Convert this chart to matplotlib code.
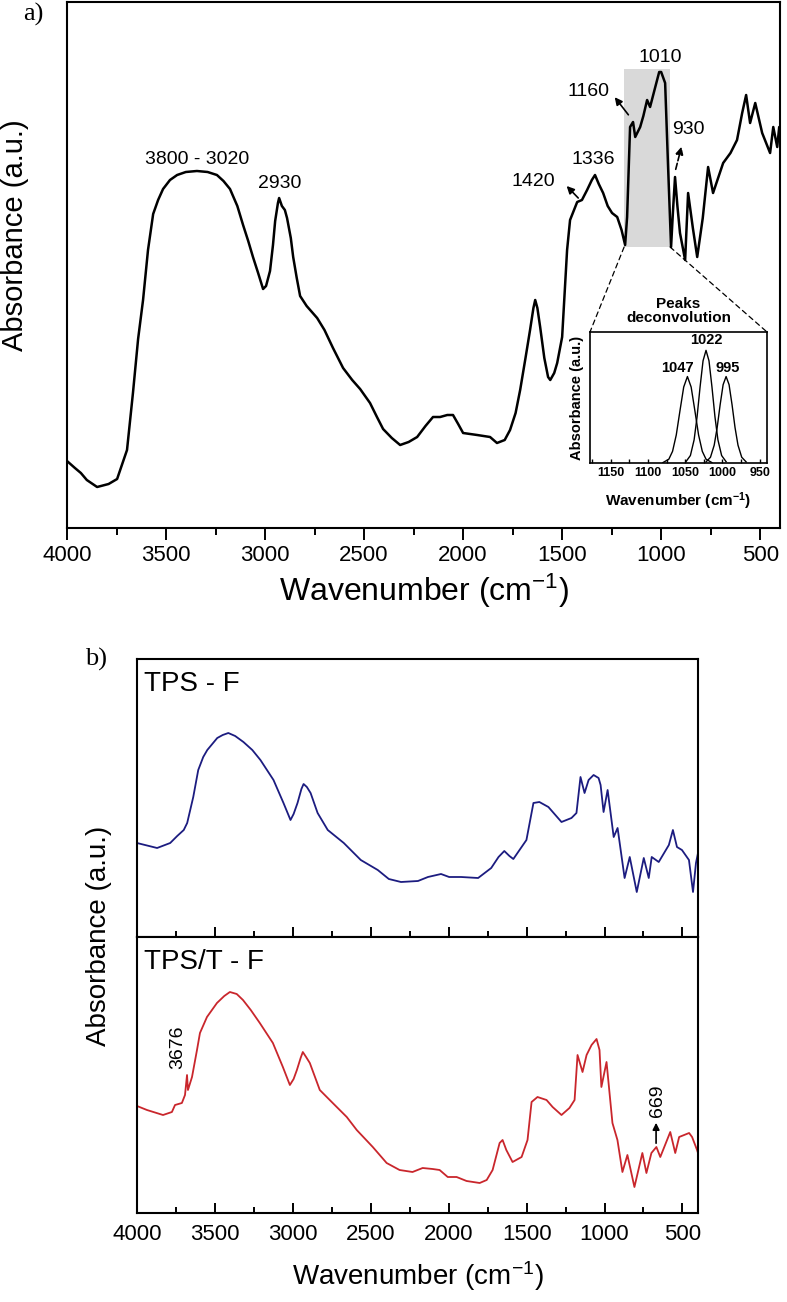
import matplotlib.pyplot as plt
from matplotlib.patches import Rectangle, ConnectionPatch
from matplotlib.ticker import MultipleLocator

plt.rcParams['font.family'] = ['Liberation Sans', 'DejaVu Sans']
plt.rcParams['mathtext.default'] = 'regular'

# ---- panel a: FTIR spectrum (wavenumber cm-1, absorbance a.u.)
wn_a = [4000, 3960, 3930, 3900, 3848, 3790, 3747, 3697, 3667, 3641,
        3616, 3591, 3565, 3540, 3515, 3480, 3444, 3400, 3344, 3290,
        3243, 3210, 3177, 3140, 3111, 3085, 3061, 3035, 3010, 2995,
        2975, 2960, 2949, 2935, 2929, 2915, 2900, 2889, 2870, 2858,
        2840, 2823, 2790, 2737, 2700, 2657, 2606, 2560, 2520, 2470,
        2435, 2404, 2360, 2318, 2275, 2232, 2190, 2152, 2116, 2080,
        2051, 2025, 2000, 1929, 1864, 1829, 1790, 1763, 1735, 1712,
        1685, 1662, 1645, 1636, 1625, 1611, 1590, 1571, 1560, 1540,
        1525, 1500, 1475, 1460, 1440, 1424, 1400, 1374, 1350, 1334,
        1315, 1293, 1270, 1248, 1222, 1200, 1182, 1172, 1157, 1142,
        1131, 1106, 1090, 1071, 1056, 1030, 1010, 1000, 980, 965,
        950, 940, 930, 918, 905, 879, 864, 840, 818, 790,
        763, 738, 687, 650, 617, 591, 571, 551, 525, 490,
        450, 434, 414, 404, 400]
abs_a = [67, 60, 55, 48, 41, 44, 49, 78, 135, 189,
         228, 278, 314, 328, 339, 348, 353, 356, 357, 356,
         353, 347, 339, 322, 303, 287, 271, 255, 239, 242,
         257, 283, 307, 325, 330, 322, 318, 310, 290, 271,
         250, 232, 222, 210, 198, 180, 160, 148, 139, 125,
         111, 99, 90, 83, 86, 91, 102, 111, 111, 113,
         113, 104, 95, 93, 91, 85, 88, 98, 115, 138,
         170, 198, 220, 228, 220, 201, 170, 151, 148, 155,
         165, 191, 278, 308, 318, 326, 328, 338, 348, 353,
         344, 335, 322, 315, 311, 298, 283, 311, 401, 406,
         391, 401, 412, 428, 421, 441, 456, 456, 445, 361,
         281, 318, 351, 322, 295, 268, 335, 300, 271, 310,
         361, 335, 365, 375, 388, 415, 433, 405, 425, 395,
         375, 401, 381, 401, 395]

shade_wn = (955, 1187)
shade_abs = (281, 459)

# ---- inset: deconvoluted peaks
p1047_wn = [1080, 1072, 1067, 1062, 1057, 1052, 1047, 1042, 1037, 1032, 1027, 1022, 1014]
p1047_y = [0.003, 0.029, 0.089, 0.214, 0.40, 0.58, 0.66, 0.58, 0.40, 0.214, 0.089, 0.029, 0.003]
p1022_wn = [1049, 1043, 1038, 1034, 1030, 1026, 1022, 1018, 1014, 1010, 1006, 1001, 995]
p1022_y = [0.01, 0.057, 0.177, 0.354, 0.58, 0.78, 0.86, 0.78, 0.58, 0.354, 0.177, 0.057, 0.01]
p995_wn = [1022, 1016, 1011, 1007, 1003, 999, 995, 991, 987, 983, 979, 974, 968]
p995_y = [0.008, 0.044, 0.136, 0.271, 0.445, 0.598, 0.66, 0.598, 0.445, 0.271, 0.136, 0.044, 0.008]

# ---- panel b: TPS - F and TPS/T - F
wn_tps = [4000, 3871, 3787, 3742, 3700, 3678, 3639, 3607, 3575, 3549,
          3485, 3450, 3414, 3370, 3317, 3260, 3208, 3124, 3060, 3015,
          2995, 2970, 2945, 2931, 2910, 2886, 2841, 2776, 2673, 2564,
          2455, 2384, 2306, 2197, 2133, 2049, 1997, 1920, 1811, 1727,
          1680, 1643, 1610, 1585, 1501, 1456, 1418, 1360, 1276, 1212,
          1180, 1154, 1128, 1102, 1070, 1038, 1025, 1006, 980, 941,
          916, 871, 838, 793, 748, 716, 697, 652, 587, 561,
          535, 503, 458, 432, 413, 400]
abs_tps = [94, 89, 94, 101, 107, 114, 140, 167, 180, 187,
           199, 202, 204, 201, 195, 187, 177, 157, 134, 117,
           123, 134, 148, 153, 150, 144, 124, 107, 94, 77,
           67, 58, 55, 56, 60, 63, 60, 60, 59, 69,
           80, 86, 81, 78, 97, 134, 135, 130, 115, 119,
           124, 160, 144, 157, 162, 159, 152, 125, 147, 100,
           109, 59, 80, 45, 79, 59, 80, 75, 92, 107,
           90, 87, 77, 45, 74, 84]

wn_tpst = [4000, 3936, 3833, 3776, 3756, 3712, 3692, 3679, 3673, 3647,
           3615, 3596, 3551, 3487, 3440, 3404, 3360, 3320, 3270, 3212,
           3128, 3064, 3019, 2995, 2974, 2950, 2936, 2915, 2891, 2827,
           2744, 2654, 2590, 2487, 2398, 2315, 2232, 2167, 2103, 2058,
           2006, 1949, 1885, 1801, 1756, 1718, 1673, 1654, 1630, 1590,
           1532, 1494, 1468, 1430, 1372, 1333, 1276, 1225, 1192, 1173,
           1141, 1115, 1083, 1051, 1032, 1020, 987, 949, 917, 885,
           853, 808, 757, 731, 699, 667, 642, 578, 546, 521,
           457, 438, 406, 400]
abs_tpst = [107, 103, 98, 101, 108, 110, 118, 138, 123, 136,
            163, 180, 196, 210, 217, 221, 219, 213, 203, 190,
            170, 146, 128, 134, 143, 155, 161, 156, 150, 123,
            110, 96, 83, 66, 50, 43, 41, 45, 44, 43,
            36, 36, 32, 30, 33, 43, 70, 73, 63, 51,
            56, 73, 111, 116, 113, 106, 98, 105, 113, 158,
            141, 158, 168, 174, 163, 126, 151, 90, 73, 41,
            58, 26, 60, 40, 60, 66, 56, 81, 60, 76,
            80, 76, 63, 60]

W, H = 787, 1302
fig = plt.figure(figsize=(W / 100, H / 100), dpi=100)


def box(l, t, r, b):
    return [l / W, 1 - b / H, (r - l) / W, (b - t) / H]


# ================= panel a
ax = fig.add_axes(box(67, 2, 780, 528))
ax.add_patch(Rectangle((shade_wn[0], shade_abs[0]), shade_wn[1] - shade_wn[0],
                       shade_abs[1] - shade_abs[0], color='#d9d9d9', lw=0, zorder=1))
ax.plot(wn_a, abs_a, color='black', lw=1.8, zorder=3)
ax.set_xlim(4000, 400)
ax.set_ylim(0, 526)
ax.set_yticks([])
ax.xaxis.set_major_locator(MultipleLocator(500))
ax.xaxis.set_minor_locator(MultipleLocator(250))
ax.tick_params(axis='x', which='major', direction='out', length=8.5, width=1.4,
               labelsize=16, pad=4)
ax.tick_params(axis='x', which='minor', direction='out', length=5, width=1.4)
for s in ax.spines.values():
    s.set_linewidth(1.5)
ax.set_xlabel('Wavenumber (cm$^{-1}$)', fontsize=23, labelpad=4)

ann = dict(fontsize=14, ha='center', va='center')
ax.text(3343, 369, '3800 - 3020', **ann)
ax.text(2924, 344, '2930', **ann)
ax.text(1647, 346, '1420', **ann)
ax.text(1344, 368, '1336', **ann)
ax.text(1369, 436, '1160', **ann)
ax.text(1005, 470, '1010', **ann)
ax.text(864, 398, '930', **ann)
arr = dict(arrowstyle='-|>', color='black', lw=1.2, mutation_scale=11)
ax.annotate('', xy=(1487, 344), xytext=(1409, 328), arrowprops=arr)
ax.annotate('', xy=(1243, 433), xytext=(1157, 411), arrowprops=arr)
ax.annotate('', xy=(894, 384), xytext=(930, 356),
            arrowprops=dict(arr, linestyle='--'))

# inset
axi = fig.add_axes(box(590, 332, 767, 463))
axi.plot(p1047_wn, p1047_y, color='black', lw=1.0)
axi.plot(p1022_wn, p1022_y, color='black', lw=1.0)
axi.plot(p995_wn, p995_y, color='black', lw=1.0)
axi.set_xlim(1178, 940)
axi.set_ylim(0, 1)
axi.set_yticks([])
axi.set_xticks([1150, 1100, 1050, 1000, 950])
axi.xaxis.set_minor_locator(MultipleLocator(25))
axi.tick_params(axis='x', which='both', direction='in', length=3, width=1,
                labelsize=9, pad=3)
for lab in axi.get_xticklabels():
    lab.set_fontweight('bold')
for s in axi.spines.values():
    s.set_linewidth(1.2)
axi.set_xlabel('Wavenumber (cm$^{-1}$)', fontsize=11, fontweight='bold', labelpad=8)
axi.set_ylabel('Absorbance (a.u.)', fontsize=10.5, fontweight='bold', labelpad=4)
axi.text(0.5, 1.05, 'Peaks\ndeconvolution', transform=axi.transAxes, ha='center',
         va='bottom', fontsize=11, fontweight='bold', linespacing=1.05)
pk = dict(fontsize=10.5, fontweight='bold', ha='center', va='center')
axi.text(1021, 0.94, '1022', **pk)
axi.text(1060, 0.725, '1047', **pk)
axi.text(993, 0.725, '995', **pk)

for xa, xb in [(shade_wn[1], 0), (shade_wn[0], 1)]:
    con = ConnectionPatch(xyA=(xa, shade_abs[0]), coordsA=ax.transData,
                          xyB=(xb, 1), coordsB=axi.transAxes,
                          linestyle=(0, (4, 3)), lw=0.9, color='black')
    fig.add_artist(con)

fig.text(15 / W, 1 - 235 / H, 'Absorbance (a.u.)', rotation=90, fontsize=21,
         ha='center', va='center')
fig.text(33 / W, 1 - 14 / H, 'a)', fontsize=19, family='Liberation Serif',
         ha='center', va='center')

# ================= panel b
axt = fig.add_axes(box(137, 659, 698, 937))
axb = fig.add_axes(box(137, 937, 698, 1213))
axt.plot(wn_tps, abs_tps, color='#1c1c80', lw=1.3)
axb.plot(wn_tpst, abs_tpst, color='#c9262c', lw=1.3)
axt.set_ylim(0, 278)
axb.set_ylim(0, 276)
for a in (axt, axb):
    a.set_xlim(4000, 400)
    a.set_yticks([])
    a.xaxis.set_major_locator(MultipleLocator(500))
    a.xaxis.set_minor_locator(MultipleLocator(250))
    a.tick_params(axis='x', which='major', direction='in', length=7.5, width=1.4,
                  labelsize=16, pad=8)
    a.tick_params(axis='x', which='minor', direction='in', length=4, width=1.4)
    for s in a.spines.values():
        s.set_linewidth(1.5)
axt.tick_params(axis='x', which='both', labelbottom=False)
axb.set_xlabel('Wavenumber (cm$^{-1}$)', fontsize=20, labelpad=10)

axt.text(0.012, 0.91, 'TPS - F', transform=axt.transAxes, fontsize=20,
         ha='left', va='center')
axb.text(0.012, 0.909, 'TPS/T - F', transform=axb.transAxes, fontsize=20,
         ha='left', va='center')
axb.text(3737, 166, '3676', rotation=90, fontsize=14, ha='center', va='center')
axb.text(662, 112, '669', rotation=90, fontsize=14, ha='center', va='center')
axb.annotate('', xy=(669, 93), xytext=(669, 67),
             arrowprops=dict(arrowstyle='-|>', color='black', lw=1.2, mutation_scale=10))

fig.text(99 / W, 1 - 936 / H, 'Absorbance (a.u.)', rotation=90, fontsize=20,
         ha='center', va='center')
fig.text(96 / W, 1 - 659 / H, 'b)', fontsize=19, family='Liberation Serif',
         ha='center', va='center')

fig.savefig('out.png', dpi=100)
